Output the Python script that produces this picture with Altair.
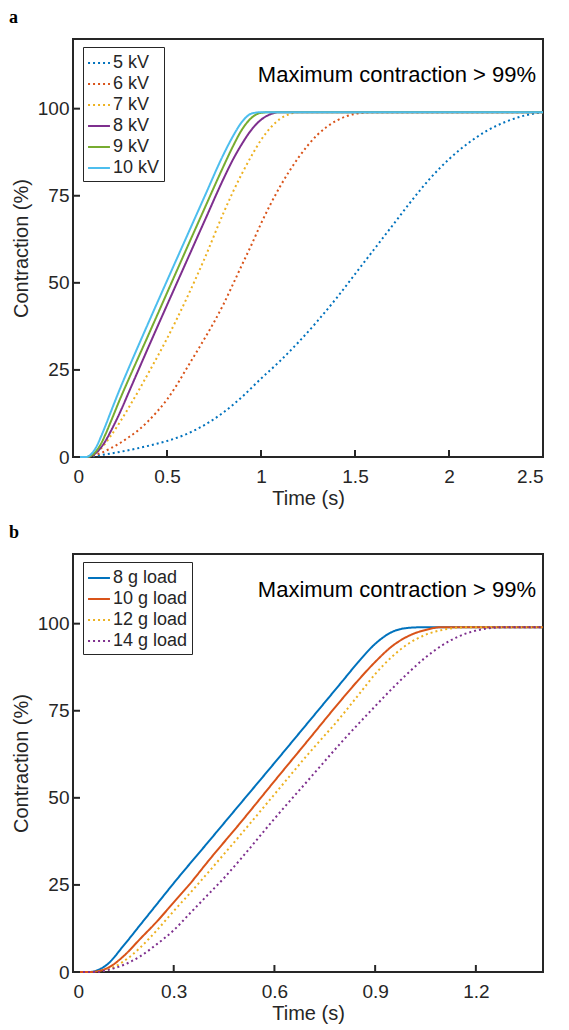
import altair as alt
import pandas as pd

# ---------------- Panel a : driving voltage ----------------
A_NAMES = ["5 kV", "6 kV", "7 kV", "8 kV", "9 kV", "10 kV"]
A_COLORS = ["#0072BD", "#D95319", "#EDB120", "#7E2F8E", "#77AC30", "#4DBEEE"]
A_DOTTED = [True, True, True, False, False, False]

a5_t = [0, 0.07, 0.1, 0.2, 0.3, 0.4, 0.5, 0.6, 0.7, 0.8, 0.9, 1.0, 1.1, 1.2, 1.3,
        1.4, 1.5, 1.6, 1.7, 1.8, 1.9, 2.0, 2.1, 2.2, 2.3, 2.4, 2.5]
a5_y = [0, 0, 0.2, 1.0, 2.0, 3.2, 4.6, 6.5, 9.2, 12.8, 17.3, 22.5, 27.5, 33, 39,
        45.5, 52.5, 59.5, 66.5, 73.5, 80, 85.5, 90, 93.6, 96.2, 98, 99]
a6_t = [0, 0.07, 0.1, 0.15, 0.2, 0.25, 0.3, 0.35, 0.4, 0.45, 0.5, 0.55, 0.6, 0.65,
        0.7, 0.75, 0.8, 0.85, 0.9, 0.95, 1.0, 1.1, 1.2, 1.3, 1.4, 1.5, 1.6, 2.5]
a6_y = [0, 0, 0.3, 1.2, 2.5, 4, 5.8, 7.8, 10.3, 13.2, 16.5, 20.5, 25, 29.5,
        34, 38.7, 43.8, 49.5, 55.3, 61, 67, 77.5, 86, 92.5, 96.5, 98.5, 99, 99]
a7_t = [0, 0.07, 0.1, 0.15, 0.2, 0.3, 0.4, 0.5, 0.6, 0.7, 0.8, 0.85, 0.9, 0.95,
        1.0, 1.05, 1.1, 1.15, 1.2, 1.25, 2.5]
a7_y = [0, 0, 0.6, 2.5, 6, 14.5, 24, 34, 45, 57, 70, 76, 81.5, 86.5,
        91, 94.5, 97, 98.4, 99, 99, 99]
a8_t = [0, 0.075, 0.1, 0.125, 0.15, 0.175, 0.2, 0.25, 0.3, 0.4, 0.5, 0.6, 0.7,
        0.8, 0.85, 0.9, 0.95, 1.0, 1.05, 1.1, 2.5]
a8_y = [0, 0, 0.4, 1.3, 2.8, 4.8, 7.3, 12.8, 19, 31.4, 43.6, 55.7, 67.8,
        79.8, 85.3, 90, 94, 96.8, 98.4, 99, 99]
a9_t = [0, 0.07, 0.1, 0.125, 0.15, 0.175, 0.2, 0.25, 0.3, 0.4, 0.5, 0.6, 0.7,
        0.8, 0.85, 0.9, 0.95, 1.0, 1.05, 2.5]
a9_y = [0, 0, 0.5, 1.8, 3.9, 6.8, 10, 16.6, 22.8, 34.9, 47.1, 59.3, 71.4,
        83.4, 89.1, 94.1, 97.4, 98.8, 99, 99]
a10_t = [0, 0.07, 0.1, 0.125, 0.15, 0.175, 0.2, 0.25, 0.3, 0.4, 0.5, 0.6, 0.7,
         0.8, 0.85, 0.9, 0.95, 1.0, 2.5]
a10_y = [0, 0, 1, 3, 6, 9.3, 12.8, 19.6, 26, 38.4, 50.6, 62.7, 74.8,
         86.8, 92, 96.3, 98.6, 99, 99]

A_T = [a5_t, a6_t, a7_t, a8_t, a9_t, a10_t]
A_Y = [a5_y, a6_y, a7_y, a8_y, a9_y, a10_y]
A_XTICKS = [0, 0.5, 1, 1.5, 2, 2.5]
A_XDOMAIN = [0, 2.5]

# ---------------- Panel b : load ----------------
B_NAMES = ["8 g load", "10 g load", "12 g load", "14 g load"]
B_COLORS = ["#0072BD", "#D95319", "#EDB120", "#7E2F8E"]
B_DOTTED = [False, False, True, True]

b8_t = [0, 0.05, 0.08, 0.1, 0.15, 0.2, 0.25, 0.3, 0.4, 0.5, 0.6, 0.7, 0.8,
        0.85, 0.9, 0.95, 1.0, 1.05, 1.4]
b8_y = [0, 0, 0.8, 2, 7.5, 13.5, 19.5, 25.5, 37, 48.5, 60, 71.6, 83.2,
        89, 94.2, 97.6, 98.8, 99, 99]
b10_t = [0, 0.05, 0.1, 0.15, 0.2, 0.25, 0.3, 0.35, 0.4, 0.5, 0.6, 0.7, 0.8,
         0.85, 0.9, 0.95, 1.0, 1.05, 1.1, 1.4]
b10_y = [0, 0, 1, 4.5, 9.5, 14.5, 20, 25.5, 31.5, 43, 54.8, 66.5, 78.2,
         83.8, 89, 93.5, 96.5, 98.2, 99, 99]
b12_t = [0, 0.06, 0.1, 0.15, 0.2, 0.25, 0.3, 0.35, 0.4, 0.5, 0.6, 0.7, 0.8,
         0.85, 0.9, 0.95, 1.0, 1.05, 1.1, 1.15, 1.2, 1.4]
b12_y = [0, 0, 0.6, 3, 7, 12, 17.5, 22.8, 28.3, 39.5, 51, 62.5, 73.5,
         79.5, 85.5, 90.5, 94.3, 96.8, 98.2, 98.9, 99, 99]
b14_t = [0, 0.07, 0.1, 0.15, 0.2, 0.25, 0.3, 0.35, 0.4, 0.45, 0.5, 0.6, 0.7,
         0.8, 0.9, 0.95, 1.0, 1.05, 1.1, 1.15, 1.2, 1.25, 1.3, 1.4]
b14_y = [0, 0, 0.5, 2, 4.5, 8, 12, 17, 22, 27, 32.5, 44, 55,
         66, 76.3, 81.3, 86, 90.3, 93.8, 96.4, 98, 98.8, 99, 99]

B_T = [b8_t, b10_t, b12_t, b14_t]
B_Y = [b8_y, b10_y, b12_y, b14_y]
B_XTICKS = [0, 0.3, 0.6, 0.9, 1.2]
B_XDOMAIN = [0, 1.4]

Y_TICKS = [0, 25, 50, 75, 100]
Y_DOMAIN = [0, 120]
NOTE = "Maximum contraction > 99%"

W, H = 470, 418
INK = "#262626"
FONT = "Liberation Sans"


def make_df(names, ts, ys):
    rows = []
    for n, tt, yy in zip(names, ts, ys):
        for t, y in zip(tt, yy):
            rows.append({"series": n, "t": t, "c": y})
    return pd.DataFrame(rows)


def panel(letter, names, colors, dotted, ts, ys, xdom, xticks):
    df = make_df(names, ts, ys)
    dashes = [[2, 3] if d else [1, 0] for d in dotted]
    leg = alt.Legend(title=None, orient="none", legendX=10, legendY=8,
                     fillColor="white", strokeColor=INK, padding=4,
                     labelFont=FONT, labelFontSize=18, labelColor=INK,
                     symbolType="stroke", symbolStrokeWidth=2, symbolSize=480,
                     rowPadding=0, labelOffset=2, symbolOffset=0)
    xenc = alt.X("t:Q", scale=alt.Scale(domain=xdom, nice=False, zero=False),
                 axis=alt.Axis(values=xticks, labelExpr="'' + datum.value",
                               title="Time (s)"))
    yenc = alt.Y("c:Q", scale=alt.Scale(domain=Y_DOMAIN, nice=False),
                 axis=alt.Axis(values=Y_TICKS, title="Contraction (%)"))
    lines = alt.Chart(df).mark_line(strokeWidth=2, interpolate="monotone",
                                    strokeCap="butt").encode(
        x=xenc, y=yenc,
        color=alt.Color("series:N", scale=alt.Scale(domain=names, range=colors),
                        legend=leg),
        strokeDash=alt.StrokeDash("series:N",
                                  scale=alt.Scale(domain=names, range=dashes),
                                  legend=leg),
    )
    xt = alt.Chart(pd.DataFrame({"t": xticks})).mark_rule(
        color=INK, strokeWidth=2).encode(
        x=alt.X("t:Q"), y=alt.value(H), y2=alt.value(H - 7))
    yt = alt.Chart(pd.DataFrame({"c": Y_TICKS})).mark_rule(
        color=INK, strokeWidth=2).encode(
        y=alt.Y("c:Q"), x=alt.value(0), x2=alt.value(7))
    note = alt.Chart(pd.DataFrame({"s": [NOTE]})).mark_text(
        font=FONT, fontSize=22, color="black", align="right",
        baseline="middle").encode(
        x=alt.value(W - 7), y=alt.value(36), text="s:N")
    lab = alt.Chart(pd.DataFrame({"s": [letter]})).mark_text(
        font="Liberation Serif", fontSize=18, fontWeight="bold", color="black",
        align="left", baseline="alphabetic").encode(
        x=alt.value(-64), y=alt.value(-16), text="s:N")
    return alt.layer(lines, xt, yt, note, lab).properties(width=W, height=H)


pa = panel("a", A_NAMES, A_COLORS, A_DOTTED, A_T, A_Y, A_XDOMAIN, A_XTICKS)
pb = panel("b", B_NAMES, B_COLORS, B_DOTTED, B_T, B_Y, B_XDOMAIN, B_XTICKS)

chart = alt.vconcat(pa, pb, spacing=14).resolve_scale(
    color="independent", strokeDash="independent", x="independent"
).resolve_legend(
    color="independent", strokeDash="independent"
).properties(padding=0).configure_view(
    stroke=INK, strokeWidth=2
).configure_axis(
    domain=False, ticks=False, grid=False,
    labelFont=FONT, labelFontSize=19, labelColor=INK,
    titleFont=FONT, titleFontSize=20, titleFontWeight="normal", titleColor=INK,
).configure_axisX(labelPadding=10, titlePadding=2).configure_axisY(
    labelPadding=4, titlePadding=6)

chart.save("out.html", embed_options={"renderer": "svg", "actions": False})
